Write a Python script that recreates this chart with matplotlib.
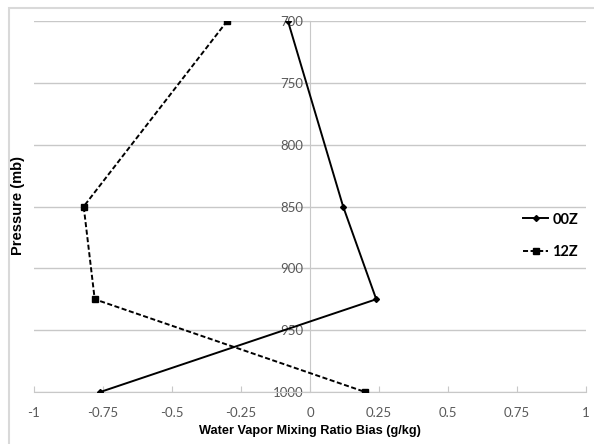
import numpy as np
import matplotlib.pyplot as plt
from matplotlib.patches import Rectangle
from matplotlib.lines import Line2D

# Pressure levels (mb) and bias values (g/kg)
pressure = [700, 850, 925, 1000]
bias_00z = [-0.08, 0.12, 0.24, -0.76]
bias_12z = [-0.30, -0.82, -0.78, 0.20]
x_ticks = [-1, -0.75, -0.5, -0.25, 0, 0.25, 0.5, 0.75, 1]
x_tick_labels = ['-1', '-0.75', '-0.5', '-0.25', '0', '0.25', '0.5', '0.75', '1']
y_ticks = [700, 750, 800, 850, 900, 950, 1000]

tick_color = '#595959'
grid_color = '#c8c8c8'

fig = plt.figure(figsize=(5.94, 4.44), dpi=100)
ax = fig.add_axes([34/594, 1 - 392/444, (586-34)/594, (392-21)/444])

# Outer chart frame (Excel style)
fig.patches.append(Rectangle((9/594, -0.1), 1.2, 1 - 8/444 + 0.1,
                             transform=fig.transFigure, fill=False,
                             edgecolor='#d9d9d9', linewidth=1.5))

ax.plot(bias_00z, pressure, color='black', linewidth=1.4, marker='D',
        markersize=3, label='00Z', zorder=3)
ax.plot(bias_12z, pressure, color='black', linewidth=1.4, linestyle=(0, (2.6, 1.3)),
        marker='s', markersize=4, label='12Z', zorder=3)

ax.set_xlim(-1, 1)
ax.set_ylim(1000, 700)
ax.set_xticks(x_ticks)
ax.set_xticklabels(x_tick_labels)
ax.set_yticks(y_ticks)

ax.grid(axis='y', color=grid_color, linewidth=1)
ax.set_axisbelow(True)

# Spines: left crosses at x=0, bottom at 1000
for s in ['top', 'right']:
    ax.spines[s].set_visible(False)
ax.spines['left'].set_position(('data', 0))
ax.spines['left'].set_color(grid_color)
ax.spines['bottom'].set_color(grid_color)
ax.spines['left'].set_zorder(1)

ax.tick_params(axis='x', direction='in', length=4, color=grid_color,
               labelcolor=tick_color, labelsize=9.5, pad=11)
ax.tick_params(axis='y', direction='out', length=4, color=grid_color,
               labelcolor=tick_color, labelsize=9.5, pad=1)
for lab in ax.get_xticklabels() + ax.get_yticklabels():
    lab.set_family('Lato')

ax.set_xlabel('Water Vapor Mixing Ratio Bias (g/kg)', fontsize=9.2,
              fontweight='bold', family='Liberation Sans', labelpad=4)
fig.text(18/594, 1 - 205/444, 'Pressure (mb)', rotation=90, fontsize=10.5,
         fontweight='bold', family='Liberation Sans', ha='center', va='center')

leg = ax.legend(loc='center left', bbox_to_anchor=(510/594, 1 - 236/444),
                bbox_transform=fig.transFigure, frameon=False,
                handlelength=1.7, handletextpad=0.3, labelspacing=1.3,
                prop={'family': 'Lato', 'weight': 'bold', 'size': 10.5})

fig.savefig('out.png', dpi=100)
